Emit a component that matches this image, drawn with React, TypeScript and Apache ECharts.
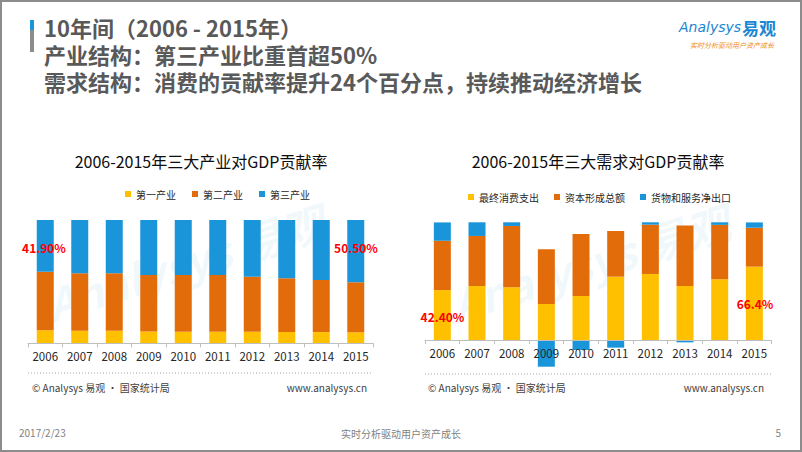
import React, { useEffect, useRef } from "react";
import * as echarts from "echarts";

const years = ["2006", "2007", "2008", "2009", "2010", "2011", "2012", "2013", "2014", "2015"];

const industryNames = ["第一产业", "第二产业", "第三产业"];
const primary = [10.6, 10.2, 10.1, 9.6, 9.3, 9.3, 9.3, 9.2, 9.1, 8.9];
const secondary = [47.5, 46.6, 46.7, 45.8, 46.1, 46.1, 44.7, 43.5, 42.3, 40.6];
const tertiary = [41.9, 43.2, 43.2, 44.6, 44.6, 44.6, 46.0, 47.3, 48.6, 50.5];

const demandNames = ["最终消费支出", "资本形成总额", "货物和服务净出口"];
const consumption = [42.4, 45.9, 44.8, 30.6, 37.4, 53.8, 56.1, 45.9, 51.6, 62.3];
const capital = [41.9, 42.5, 52.1, 46.5, 52.7, 38.8, 41.9, 51.3, 46.2, 33.1];
const netExport = [15.6, 11.6, 3.1, -22.7, -8.5, -6.5, 2.0, -2.0, 2.2, 4.5];

const leftCallouts = ["41.90%", "50.50%"];
const rightCallouts = ["42.40%", "66.4%"];

const COLORS = ["#FFC000", "#E36C0A", "#1B95D9"];
const FONT = "'Noto Sans CJK SC', 'Noto Sans', sans-serif";

export default function App() {
  const ref = useRef<HTMLDivElement>(null);

  useEffect(() => {
    document.body.style.margin = "0";
    const chart = echarts.init(ref.current!, null, { renderer: "svg" });

    const txt = (x: number, y: number, text: string, style: any, extra: any = {}) => ({
      type: "text",
      x,
      y,
      style: {
        text,
        fontFamily: FONT,
        textVerticalAlign: "middle",
        ...style,
      },
      ...extra,
    });

    const mkBar = (name: string, data: number[], color: string, idx: number, stack: string) => ({
      name,
      type: "bar",
      stack,
      xAxisIndex: idx,
      yAxisIndex: idx,
      barWidth: 17,
      clip: false,
      data,
      itemStyle: { color },
      emphasis: { disabled: true },
    });

    const xAxisBase = (gridIndex: number) => ({
      type: "category",
      gridIndex,
      data: years,
      z: 10,
      axisLine: { show: true, onZero: false, lineStyle: { color: "#BFBFBF", width: 1 } },
      axisTick: { show: true, length: 4, lineStyle: { color: "#BFBFBF" } },
      axisLabel: { color: "#262626", fontSize: 11.5, fontFamily: FONT, margin: 7 },
      splitLine: { show: false },
    });

    const yAxisBase = (gridIndex: number, min: number, max: number) => ({
      type: "value",
      gridIndex,
      min,
      max,
      show: false,
    });

    const option: any = {
      animation: false,
      backgroundColor: "#FFFFFF",
      textStyle: { fontFamily: FONT },
      legend: [
        {
          data: industryNames,
          left: 120,
          top: 184,
          icon: "rect",
          itemWidth: 6,
          itemHeight: 6,
          itemGap: 16,
          textStyle: { fontSize: 10, color: "#262626", fontFamily: FONT },
          selectedMode: false,
        },
        {
          data: demandNames,
          left: 463,
          top: 187,
          icon: "rect",
          itemWidth: 6,
          itemHeight: 6,
          itemGap: 15,
          textStyle: { fontSize: 10, color: "#262626", fontFamily: FONT },
          selectedMode: false,
        },
      ],
      grid: [
        { left: 28, right: 429, top: 220, bottom: 108.7, containLabel: false },
        { left: 425, right: 30.3, top: 222.3, bottom: 112, containLabel: false },
      ],
      xAxis: [xAxisBase(0), xAxisBase(1)],
      yAxis: [yAxisBase(0, 0, 100), yAxisBase(1, 0, 100)],
      series: [
        mkBar(industryNames[0], primary, COLORS[0], 0, "ind"),
        mkBar(industryNames[1], secondary, COLORS[1], 0, "ind"),
        mkBar(industryNames[2], tertiary, COLORS[2], 0, "ind"),
        mkBar(demandNames[0], consumption, COLORS[0], 1, "dem"),
        mkBar(demandNames[1], capital, COLORS[1], 1, "dem"),
        mkBar(demandNames[2], netExport, COLORS[2], 1, "dem"),
      ],
      graphic: [
        // slide border
        {
          type: "rect",
          shape: { x: 1, y: 1, width: 800, height: 450 },
          style: { fill: "none", stroke: "#8C8C8C", lineWidth: 2 },
          z: 100,
        },
        // heading marker
        { type: "rect", shape: { x: 30, y: 20, width: 4, height: 10 }, style: { fill: "#1B95D9" } },
        { type: "rect", shape: { x: 30, y: 30, width: 4, height: 22 }, style: { fill: "#8C8C8C" } },
        txt(44, 27, "10年间（2006 - 2015年）", { fontSize: 22, fontWeight: "bold", fill: "#595959" }),
        txt(44, 54, "产业结构：第三产业比重首超50%", { fontSize: 22, fontWeight: "bold", fill: "#595959" }),
        txt(44, 81, "需求结构：消费的贡献率提升24个百分点，持续推动经济增长", { fontSize: 22, fontWeight: "bold", fill: "#595959" }),
        // logo
        txt(679, 27, "Analysys", { fontSize: 14, fontStyle: "italic", fill: "#1B86D2", fontFamily: "'DejaVu Sans', sans-serif" }),
        txt(742, 27, "易观", { fontSize: 17, fontWeight: "bold", fill: "#1B86D2" }),
        txt(690, 45, "实时分析驱动用户资产成长", { fontSize: 7, fill: "#F08C1A", fontStyle: "italic" }),
        // watermarks
        txt(185, 262, "Analysys 易观", { fontSize: 44, fontWeight: "bold", fontStyle: "italic", fill: "rgba(27,149,217,0.07)", textAlign: "center" }, { rotation: 0.3 }),
        txt(590, 262, "Analysys 易观", { fontSize: 44, fontWeight: "bold", fontStyle: "italic", fill: "rgba(27,149,217,0.07)", textAlign: "center" }, { rotation: 0.3 }),
        // chart titles
        txt(201, 161, "2006-2015年三大产业对GDP贡献率", { fontSize: 16, fill: "#0D0D0D", textAlign: "center" }),
        txt(598, 161, "2006-2015年三大需求对GDP贡献率", { fontSize: 16, fill: "#0D0D0D", textAlign: "center" }),
        // callouts
        txt(44, 247, leftCallouts[0], { fontSize: 12, fontWeight: "bold", fill: "#FF0000", textAlign: "center" }, { z: 20 }),
        txt(356, 247, leftCallouts[1], { fontSize: 12, fontWeight: "bold", fill: "#FF0000", textAlign: "center" }, { z: 20 }),
        txt(442.5, 316, rightCallouts[0], { fontSize: 12, fontWeight: "bold", fill: "#FF0000", textAlign: "center" }, { z: 20 }),
        txt(755, 303, rightCallouts[1], { fontSize: 12, fontWeight: "bold", fill: "#FF0000", textAlign: "center" }, { z: 20 }),
        // dotted separators
        { type: "line", shape: { x1: 28, y1: 373, x2: 373, y2: 373 }, style: { stroke: "#A6A6A6", lineWidth: 1, lineDash: [1, 2] } },
        { type: "line", shape: { x1: 425, y1: 374, x2: 772, y2: 374 }, style: { stroke: "#A6A6A6", lineWidth: 1, lineDash: [1, 2] } },
        // sources
        txt(32, 387, "© Analysys 易观 · 国家统计局", { fontSize: 10, fill: "#404040" }),
        txt(367, 387, "www.analysys.cn", { fontSize: 10, fill: "#404040", textAlign: "right" }),
        txt(428, 387, "© Analysys 易观 · 国家统计局", { fontSize: 10, fill: "#404040" }),
        txt(764, 387, "www.analysys.cn", { fontSize: 10, fill: "#404040", textAlign: "right" }),
        // footer
        txt(19, 432, "2017/2/23", { fontSize: 10, fill: "#7F7F7F" }),
        txt(401, 433, "实时分析驱动用户资产成长", { fontSize: 10, fill: "#7F7F7F", textAlign: "center" }),
        txt(781, 432, "5", { fontSize: 10, fill: "#7F7F7F", textAlign: "right" }),
      ],
    };

    chart.setOption(option);
    return () => chart.dispose();
  }, []);

  return <div ref={ref} style={{ width: 802, height: 452 }} />;
}
